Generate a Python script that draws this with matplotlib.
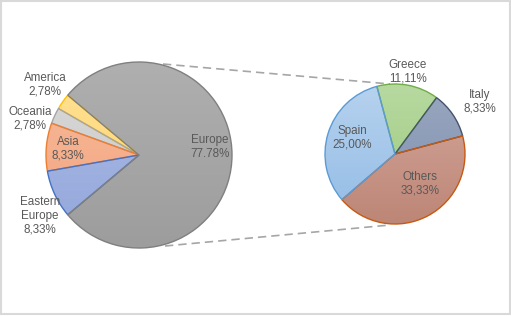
import matplotlib.pyplot as plt
import numpy as np
from matplotlib.patches import Rectangle
from matplotlib.colors import LinearSegmentedColormap

# left pie: regions
regions = ['America', 'Oceania', 'Asia', 'Eastern\nEurope', 'Europe']
region_share = [2.78, 2.78, 8.33, 8.33, 77.78]
region_labels = ['2,78%', '2,78%', '8,33%', '8,33%', '77.78%']

# right pie: breakdown of Europe
countries = ['Greece', 'Italy', 'Others', 'Spain']
country_share = [11.11, 8.33, 33.33, 25.00]
country_labels = ['11,11%', '8,33%', '33,33%', '25,00%']

W, H = 511, 316
plt.rcParams['font.family'] = ['Liberation Sans', 'DejaVu Sans']

fig = plt.figure(figsize=(W / 100, H / 100), dpi=100)
ax = fig.add_axes([0, 0, 1, 1])

def py(y):
    # pixel row -> data y
    return H - y

# (top colour, bottom colour, edge)
left_style = [('#ffe29a', '#ffd160', '#ffc000'),
              ('#d9d9d9', '#c8c8c8', '#a5a5a5'),
              ('#f8bc9c', '#f2a27c', '#ed7d31'),
              ('#aebde6', '#92a6db', '#4472c4'),
              ('#afafaf', '#9d9d9d', '#7f7f7f')]
right_style = [('#b7d9a0', '#9cc97e', '#70ad47'),
               ('#9aa7c0', '#7d8eae', '#44546a'),
               ('#d4a89c', '#bd8677', '#c55a11'),
               ('#b6d2ee', '#93bce6', '#5b9bd5')]

def draw_pie(vals, style, start, ccw, center, r):
    wedges, _ = ax.pie(vals, colors=[s[1] for s in style], startangle=start,
                       counterclock=ccw, center=center, radius=r, frame=True,
                       wedgeprops=dict(linewidth=1.0))
    for w, (top, bot, ec) in zip(wedges, style):
        w.set_edgecolor(ec)
        w.set_zorder(3)
        cmap = LinearSegmentedColormap.from_list('g', [bot, top])
        grad = np.linspace(0, 1, 64).reshape(-1, 1)
        im = ax.imshow(grad, cmap=cmap, origin='lower', aspect='auto', zorder=2,
                       extent=[center[0] - r, center[0] + r, center[1] - r, center[1] + r])
        im.set_clip_path(w)
        w.set_facecolor('none')
    return wedges

draw_pie(region_share, left_style, 140, True, (139, py(155)), 93)
draw_pie(country_share, right_style, 105, False, (395, py(154)), 70)

ax.set_xlim(0, W)
ax.set_ylim(0, H)
ax.set_aspect('equal')
ax.axis('off')

# connector lines
ax.plot([163, 390], [py(64), py(84)], ls=(0, (5, 3)), color='#a6a6a6', lw=1.2)
ax.plot([165, 390], [py(246), py(225)], ls=(0, (5, 3)), color='#a6a6a6', lw=1.2)

txt = dict(ha='center', va='center', fontsize=8.4, color='#595959',
           linespacing=1.2, zorder=5)
left_pos = [(45, 85), (30, 119), (68, 149), (40, 216), (210, 147)]
for name, lab, (x, y) in zip(regions, region_labels, left_pos):
    ax.text(x, py(y), name + '\n' + lab, **txt)

right_pos = [(408, 72), (480, 102), (420, 184), (352, 138)]
for name, lab, (x, y) in zip(countries, country_labels, right_pos):
    ax.text(x, py(y), name + '\n' + lab, **txt)

fig.patches.append(Rectangle((1, 2.5), W - 2.5, H - 3, transform=None,
                             fill=False, edgecolor='#d9d9d9', lw=1.5))

fig.savefig('out.png', dpi=100)
